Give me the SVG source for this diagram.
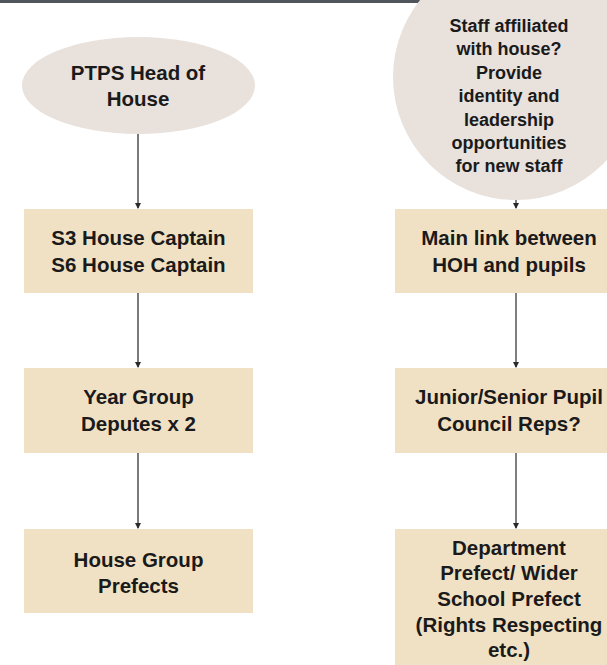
<svg xmlns="http://www.w3.org/2000/svg" width="607" height="665" viewBox="0 0 607 665">
<style>
  .oval { fill: #e8e1dc; }
  .box { fill: #f1e1c4; }
  .t { font-family: "Liberation Sans", Arial, sans-serif; font-weight: bold; fill: #1a1a1a; text-anchor: middle; }
  .big { font-size: 20.5px; }
  .small { font-size: 18px; }
  .cl { fill: none; stroke: #7a7a7a; stroke-width: 2; }
  .cr { fill: none; stroke: #3a3a3a; stroke-width: 1.3; }
</style>
<defs>
  <marker id="ah" markerWidth="6" markerHeight="6" refX="5" refY="3" orient="auto" markerUnits="userSpaceOnUse">
    <path d="M0,0 L6,3 L0,6 Z" fill="#2a2a2a"/>
  </marker>
</defs>
<rect x="0" y="0" width="607" height="665" fill="#ffffff"/>
<rect x="0" y="0" width="607" height="3" fill="#50555b"/>

<g id="connectors">
  <line class="cl" x1="138" y1="134" x2="138" y2="208" marker-end="url(#ah)"/>
  <line class="cl" x1="138" y1="293" x2="138" y2="367" marker-end="url(#ah)"/>
  <line class="cl" x1="138" y1="453" x2="138" y2="528" marker-end="url(#ah)"/>
  <line class="cr" x1="516" y1="200" x2="516" y2="208" marker-end="url(#ah)"/>
  <line class="cr" x1="516" y1="285" x2="516" y2="367" marker-end="url(#ah)"/>
  <line class="cr" x1="516" y1="445" x2="516" y2="528" marker-end="url(#ah)"/>
</g>

<g id="head">
  <ellipse class="oval" cx="138.5" cy="85.5" rx="116.5" ry="48.5"/>
  <text class="t big" x="138" y="80">PTPS Head of</text>
  <text class="t big" x="138" y="106">House</text>
</g>

<g id="captains">
  <rect class="box" x="24" y="209" width="229" height="84"/>
  <text class="t big" x="138.5" y="245">S3 House Captain</text>
  <text class="t big" x="138.5" y="272">S6 House Captain</text>
</g>

<g id="deputes">
  <rect class="box" x="24" y="368" width="229" height="85"/>
  <text class="t big" x="138.5" y="404">Year Group</text>
  <text class="t big" x="138.5" y="431">Deputes x 2</text>
</g>

<g id="prefects">
  <rect class="box" x="24" y="529" width="229" height="84"/>
  <text class="t big" x="138.5" y="567">House Group</text>
  <text class="t big" x="138.5" y="593">Prefects</text>
</g>

<g id="staff">
  <circle class="oval" cx="516" cy="77" r="123"/>
  <text class="t small" x="509" y="32">Staff affiliated</text>
  <text class="t small" x="509" y="55">with house?</text>
  <text class="t small" x="509" y="79">Provide</text>
  <text class="t small" x="509" y="102">identity and</text>
  <text class="t small" x="509" y="126">leadership</text>
  <text class="t small" x="509" y="149">opportunities</text>
  <text class="t small" x="509" y="172">for new staff</text>
</g>

<g id="mainlink">
  <rect class="box" x="395" y="209" width="229" height="84"/>
  <text class="t big" x="509" y="245">Main link between</text>
  <text class="t big" x="509" y="272">HOH and pupils</text>
</g>

<g id="council">
  <rect class="box" x="395" y="368" width="229" height="85"/>
  <text class="t big" x="509" y="404">Junior/Senior Pupil</text>
  <text class="t big" x="509" y="431">Council Reps?</text>
</g>

<g id="department">
  <rect class="box" x="395" y="529" width="229" height="140"/>
  <text class="t big" x="509" y="555">Department</text>
  <text class="t big" x="509" y="580">Prefect/ Wider</text>
  <text class="t big" x="509" y="606">School Prefect</text>
  <text class="t big" x="509" y="632">(Rights Respecting</text>
  <text class="t big" x="509" y="657">etc.)</text>
</g>
</svg>
